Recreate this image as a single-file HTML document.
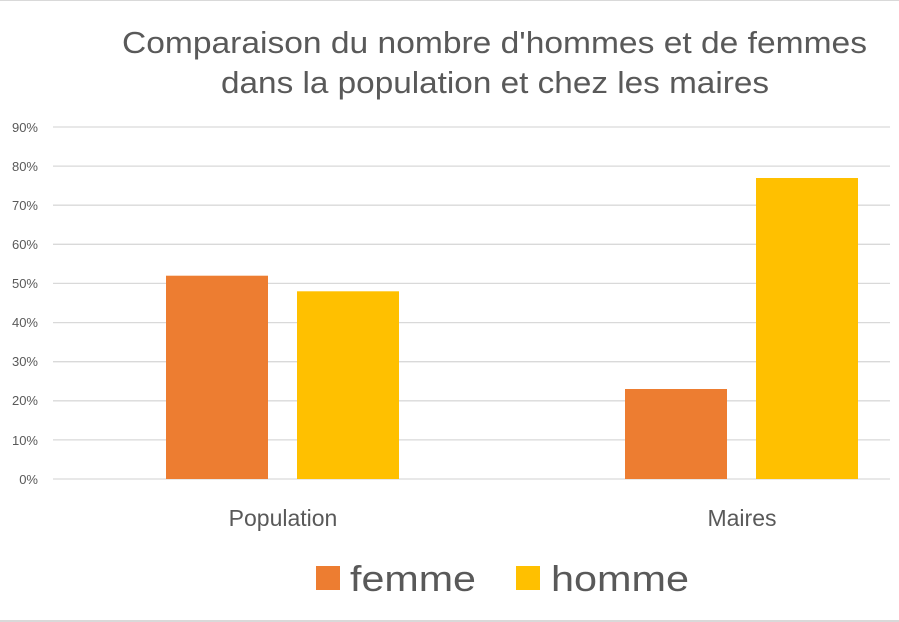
<!DOCTYPE html>
<html><head><meta charset="utf-8"><style>
html,body{margin:0;padding:0;background:#fff;}
svg{display:block;font-family:"Liberation Sans",sans-serif;}
</style></head><body>
<svg width="899" height="622" viewBox="0 0 899 622" xmlns="http://www.w3.org/2000/svg">
<rect x="0" y="0" width="899" height="622" fill="#fff"/>
<line x1="0" y1="0.5" x2="899" y2="0.5" stroke="#d9d9d9"/>
<line x1="0" y1="621" x2="899" y2="621" stroke="#d9d9d9" stroke-width="2"/>
<g fill="#595959" font-size="31">
<text x="122" y="53" textLength="745" lengthAdjust="spacingAndGlyphs">Comparaison du nombre d'hommes et de femmes</text>
<text x="221" y="93" textLength="548" lengthAdjust="spacingAndGlyphs">dans la population et chez les maires</text>
</g>
<g stroke="#d9d9d9" stroke-width="1.3">
<line x1="53" x2="890" y1="127" y2="127"/>
<line x1="53" x2="890" y1="166.1" y2="166.1"/>
<line x1="53" x2="890" y1="205.2" y2="205.2"/>
<line x1="53" x2="890" y1="244.3" y2="244.3"/>
<line x1="53" x2="890" y1="283.4" y2="283.4"/>
<line x1="53" x2="890" y1="322.6" y2="322.6"/>
<line x1="53" x2="890" y1="361.7" y2="361.7"/>
<line x1="53" x2="890" y1="400.8" y2="400.8"/>
<line x1="53" x2="890" y1="439.9" y2="439.9"/>
<line x1="53" x2="890" y1="479" y2="479"/>
</g>
<g fill="#595959" font-size="13" text-anchor="end">
<text x="38" y="132">90%</text>
<text x="38" y="171">80%</text>
<text x="38" y="210">70%</text>
<text x="38" y="249">60%</text>
<text x="38" y="288">50%</text>
<text x="38" y="327">40%</text>
<text x="38" y="366">30%</text>
<text x="38" y="405">20%</text>
<text x="38" y="445">10%</text>
<text x="38" y="484">0%</text>
</g>
<rect x="166" y="275.7" width="102" height="203.3" fill="#ed7d31"/>
<rect x="297" y="291.3" width="102" height="187.7" fill="#ffc000"/>
<rect x="625" y="389" width="102" height="90" fill="#ed7d31"/>
<rect x="756" y="178" width="102" height="301" fill="#ffc000"/>
<g fill="#595959" font-size="23" text-anchor="middle">
<text x="283" y="526">Population</text>
<text x="742" y="526">Maires</text>
</g>
<rect x="316" y="566" width="24" height="24" fill="#ed7d31"/>
<rect x="516" y="566" width="24" height="24" fill="#ffc000"/>
<g fill="#595959" font-size="36">
<text x="350" y="591" textLength="126" lengthAdjust="spacingAndGlyphs">femme</text>
<text x="551" y="591" textLength="138" lengthAdjust="spacingAndGlyphs">homme</text>
</g>
</svg>
</body></html>
